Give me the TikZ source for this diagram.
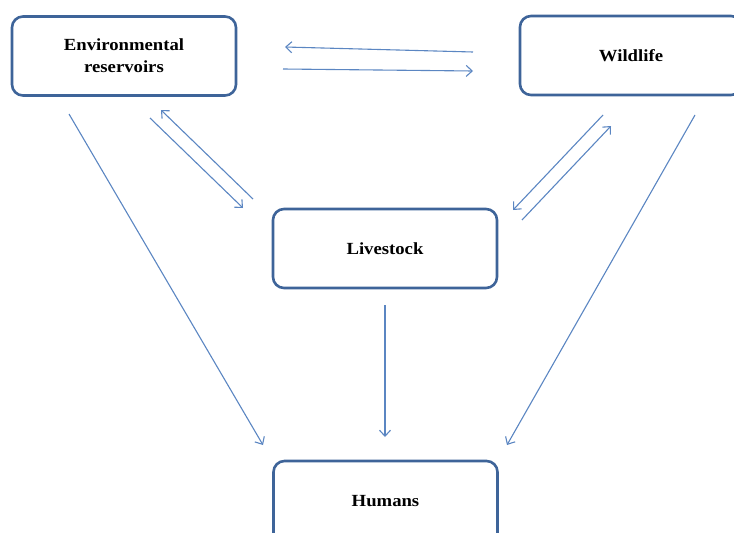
\documentclass[tikz,border=0pt]{standalone}
\usepackage{fontspec}
\setmainfont{Liberation Serif}
\newfontfamily\boxfont[FakeStretch=1.1]{Liberation Serif}
\usetikzlibrary{arrows.meta}
\definecolor{boxc}{HTML}{3E6499}
\definecolor{arrc}{HTML}{5B86C2}
\begin{document}
\begin{tikzpicture}[x=1pt,y=-1pt,
  btext/.style={font=\boxfont\fontsize{17}{22}\selectfont\bfseries},
  box/.style={draw=boxc,line width=2.6pt,rounded corners=11pt,fill=white,
    minimum width=224pt,minimum height=79pt,align=center,inner sep=0pt,btext},
  arr/.style={draw=arrc,line width=1.1pt,-{Straight Barb[length=6pt,width=11pt,line width=1.1pt]}}]
\useasboundingbox (0,0) rectangle (734,533);
\begin{scope}
\clip (0,0) rectangle (734,533);
\node[box] (env) at (124,56) {Environmental\\reservoirs};
\node[box,minimum width=222pt] (wild) at (631,55.5) {Wildlife};
\node[box] (live) at (385,248.5) {Livestock};
\node[box,minimum height=84pt] (hum) at (385.5,503) {};
\node at (385.5,501) [btext] (humt) {Humans};
\end{scope}
\coordinate (a1s) at (473,52); \coordinate (a1e) at (285,47);
\coordinate (a2s) at (283,69); \coordinate (a2e) at (473,71);
\coordinate (a3s) at (150,118); \coordinate (a3e) at (243,208);
\coordinate (a4s) at (253,199); \coordinate (a4e) at (161,110);
\coordinate (a5s) at (603,115); \coordinate (a5e) at (513,210);
\coordinate (a6s) at (522,220); \coordinate (a6e) at (611,126);
\coordinate (a7s) at (69,114); \coordinate (a7e) at (263,445);
\coordinate (a8s) at (695,115); \coordinate (a8e) at (507,445);
\coordinate (a9s) at (385,305); \coordinate (a9e) at (385,437);
\foreach \i in {1,...,9} \draw[arr] (a\i s) -- (a\i e);
\end{tikzpicture}
\end{document}
